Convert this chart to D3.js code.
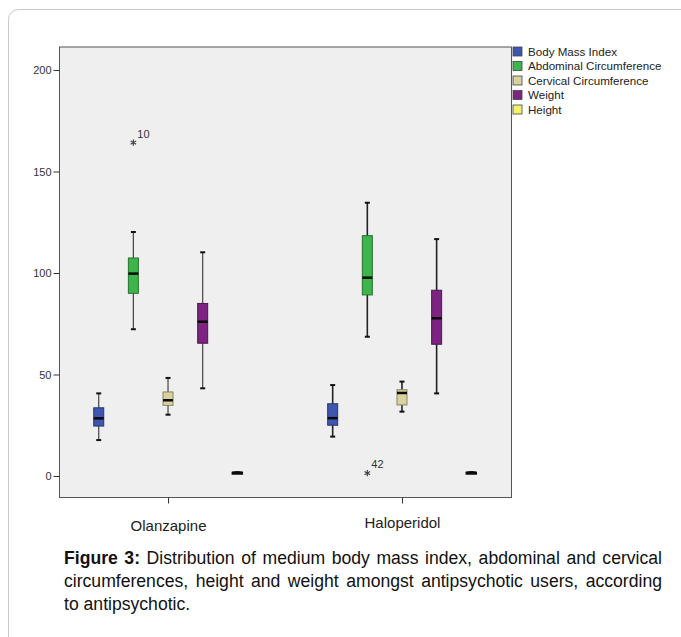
<!DOCTYPE html>
<html>
<head>
<meta charset="utf-8">
<script src="https://cdn.jsdelivr.net/npm/d3@7"></script>
<style>
  body { margin: 0; background: #fff; }
  svg { display: block; }
</style>
</head>
<body>
<div id="paper"></div>
<script>
// box plot values (min, q1, median, q3, max)
var groups = ['Olanzapine', 'Haloperidol']
var series = ['Body Mass Index', 'Abdominal Circumference', 'Cervical Circumference', 'Weight', 'Height']
var colours = ['#3f56ae', '#3cb54a', '#d8d29e', '#7d2381', '#f4f26c']

var olanzapine_stats = [
  [17.7, 24.6, 28.4, 33.6, 40.7],
  [72.3, 90.0, 99.7, 107.4, 120.2],
  [30.2, 34.8, 37.3, 41.4, 48.3],
  [43.2, 65.4, 76.0, 85.0, 110.2],
  [1.5, 1.58, 1.65, 1.72, 1.85]
]
var haloperidol_stats = [
  [19.4, 25.0, 28.5, 35.6, 44.8],
  [68.6, 89.2, 97.7, 118.4, 134.6],
  [31.7, 35.0, 40.9, 42.5, 46.5],
  [40.7, 64.9, 77.7, 91.5, 116.7],
  [1.5, 1.58, 1.65, 1.72, 1.85]
]
var outlier_groups = ['Olanzapine', 'Haloperidol']
var outlier_series = ['Abdominal Circumference', 'Abdominal Circumference']
var outlier_values = [164.2, 1.4]
var outlier_labels = ['10', '42']

var y_ticks = [0, 50, 100, 150, 200]

var caption_lines = [
  ['Figure 3:', ' Distribution of medium body mass index, abdominal and cervical'],
  ['', 'circumferences, height and weight amongst antipsychotic users, according'],
  ['', 'to antipsychotic.']
]

// build rows for d3
var boxes = []
groups.forEach(function(g, gi) {
  var stats = gi == 0 ? olanzapine_stats : haloperidol_stats
  series.forEach(function(s, si) {
    var v = stats[si]
    boxes.push({group: g, series: s, colour: colours[si], min: v[0], q1: v[1], med: v[2], q3: v[3], max: v[4]})
  })
})
var outliers = outlier_values.map(function(v, i) {
  return {group: outlier_groups[i], series: outlier_series[i], value: v, label: outlier_labels[i]}
})

var W = 681, H = 637
var plot = {left: 59, right: 511, top: 46.5, bottom: 497}

var svg = d3.select('#paper')
  .append('svg')
  .attr('width', W)
  .attr('height', H)

// card outline
svg.append('rect')
  .attr('x', 8.5).attr('y', 9.5)
  .attr('width', 720).attr('height', 700)
  .attr('rx', 10)
  .attr('fill', '#fff')
  .attr('stroke', '#c9c9c9')

var y = d3.scaleLinear().domain([0, 200]).range([476, 70])
var x = d3.scalePoint().domain(groups).range([plot.left, plot.right]).padding(0.466)
var xs = d3.scalePoint().domain(series).range([-69.3, 69.3])
var box_w = 10

svg.append('rect')
  .attr('x', plot.left + 0.5).attr('y', plot.top + 0.5)
  .attr('width', plot.right - plot.left).attr('height', plot.bottom - plot.top)
  .attr('fill', '#efefef')
  .attr('stroke', '#555')

// y axis
var y_axis = svg.append('g')
  .attr('transform', 'translate(' + (plot.left + 0.5) + ',0)')
  .call(d3.axisLeft(y).tickValues(y_ticks).tickSize(6).tickPadding(2))
y_axis.select('.domain').remove()
y_axis.selectAll('line').attr('stroke', '#333')
y_axis.selectAll('text')
  .attr('font-family', 'Liberation Sans, Arial, sans-serif')
  .attr('font-size', 11)
  .attr('fill', '#333')

// x axis
var x_axis = svg.append('g')
  .attr('transform', 'translate(0,' + (plot.bottom + 0.5) + ')')
  .call(d3.axisBottom(x).tickSize(6).tickPadding(17))
x_axis.select('.domain').remove()
x_axis.selectAll('line').attr('stroke', '#333')
x_axis.selectAll('text')
  .attr('font-family', 'Liberation Sans, Arial, sans-serif')
  .attr('font-size', 15)
  .attr('fill', '#222')
  .attr('dy', function(d) { return d == 'Olanzapine' ? '0.71em' : '0.5em' })

var cx = function(d) { return x(d.group) + xs(d.series) }

var g = svg.append('g')
  .selectAll('g')
  .data(boxes)
  .join('g')

// whiskers (olanzapine ones print a bit lighter in the original)
g.append('line')
  .attr('x1', cx).attr('x2', cx)
  .attr('y1', function(d) { return y(d.max) })
  .attr('y2', function(d) { return y(d.min) })
  .attr('stroke', function(d) { return d.group == 'Olanzapine' ? '#444' : '#222' })
  .attr('stroke-width', function(d) { return d.group == 'Olanzapine' ? 1.2 : 1.6 })

g.selectAll('.cap')
  .data(function(d) { return [d, d].map(function(e, i) { return {d: e, v: i == 0 ? e.min : e.max} }) })
  .join('line')
  .attr('class', 'cap')
  .attr('x1', function(e) { return cx(e.d) - 2.5 })
  .attr('x2', function(e) { return cx(e.d) + 2.5 })
  .attr('y1', function(e) { return y(e.v) })
  .attr('y2', function(e) { return y(e.v) })
  .attr('stroke', '#111')
  .attr('stroke-width', 2)

// boxes
g.append('rect')
  .attr('x', function(d) { return cx(d) - box_w / 2 })
  .attr('y', function(d) { return y(d.q3) })
  .attr('width', box_w)
  .attr('height', function(d) { return Math.max(y(d.q1) - y(d.q3), 1.5) })
  .attr('fill', function(d) { return d.colour })
  .attr('stroke', function(d) { return d.series == 'Height' ? '#111' : d3.color(d.colour).darker(1.3) })
  .attr('stroke-width', function(d) { return d.series == 'Height' ? 1.5 : 1 })

// medians
g.append('line')
  .attr('x1', function(d) { return cx(d) - box_w / 2 })
  .attr('x2', function(d) { return cx(d) + box_w / 2 })
  .attr('y1', function(d) { return y(d.med) })
  .attr('y2', function(d) { return y(d.med) })
  .attr('stroke', '#0a0a0a')
  .attr('stroke-width', 2.5)

// outliers, drawn as asterisks with case numbers
var o = svg.append('g')
  .selectAll('g')
  .data(outliers)
  .join('g')
  .attr('transform', function(d) { return 'translate(' + cx(d) + ',' + y(d.value) + ')' })

o.append('path')
  .attr('d', d3.symbol().type(d3.symbolAsterisk).size(28))
  .attr('stroke', '#444')
  .attr('stroke-width', 1.2)
  .attr('fill', 'none')

o.append('text')
  .attr('x', 4).attr('y', -5)
  .attr('font-family', 'Liberation Sans, Arial, sans-serif')
  .attr('font-size', 11)
  .attr('fill', '#333')
  .text(function(d) { return d.label })

// legend
var legend = svg.append('g')
  .selectAll('g')
  .data(series)
  .join('g')
  .attr('transform', function(d, i) { return 'translate(513,' + (47 + i * 14.5) + ')' })

legend.append('rect')
  .attr('width', 9).attr('height', 9)
  .attr('fill', function(d, i) { return colours[i] })
  .attr('stroke', '#444')
  .attr('stroke-width', 0.8)

legend.append('text')
  .attr('x', 15).attr('y', 8.5)
  .attr('font-family', 'Liberation Sans, Arial, sans-serif')
  .attr('font-size', 11.6)
  .attr('fill', '#222')
  .text(function(d) { return d })

// caption, justified by stretching word spacing
var cap_left = 64, cap_width = 598
var caption = svg.append('g')
  .selectAll('text')
  .data(caption_lines)
  .join('text')
  .attr('x', cap_left)
  .attr('y', function(d, i) { return 564 + i * 23 })
  .attr('font-family', 'Liberation Sans, Arial, sans-serif')
  .attr('font-size', 17.6)
  .attr('fill', '#111')

caption.append('tspan')
  .attr('font-weight', 'bold')
  .text(function(d) { return d[0] })
caption.append('tspan')
  .text(function(d) { return d[1] })

caption.each(function(d, i) {
  if (i == caption_lines.length - 1) return
  var w = this.getComputedTextLength()
  var spaces = (d[0] + d[1]).split(' ').length - 1
  d3.select(this).attr('word-spacing', (cap_width - w) / spaces)
})
</script>
</body>
</html>
